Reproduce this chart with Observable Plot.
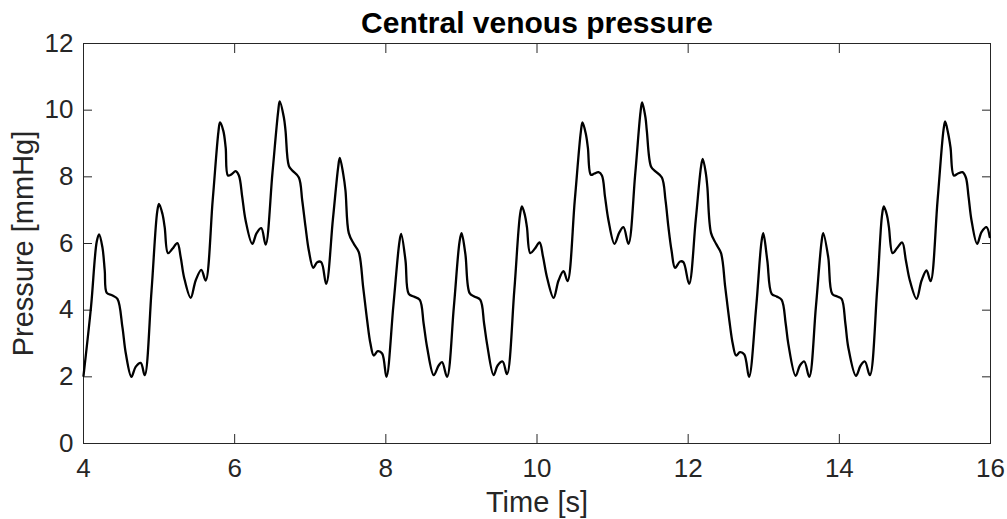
<!DOCTYPE html>
<html><head><meta charset="utf-8">
<script src="https://cdn.jsdelivr.net/npm/d3@7"></script>
<script src="https://cdn.jsdelivr.net/npm/@observablehq/plot@0.6"></script>
<style>
html,body{margin:0;padding:0;background:#fff;}
#chart svg{display:block;}
</style></head><body><div id="chart"></div>
<script>
const title = "Central venous pressure";
const xLabel = "Time [s]";
const yLabel = "Pressure [mmHg]";
const xTicks = [4, 6, 8, 10, 12, 14, 16];
const yTicks = [0, 2, 4, 6, 8, 10, 12];

const time = [
  4.00, 4.10, 4.175, 4.206, 4.25, 4.281, 4.308, 4.383, 4.449, 4.515, 4.56, 4.634, 4.69, 4.757, 4.81,
  4.90, 4.975, 4.999, 5.044, 5.074, 5.118, 5.176, 5.242, 5.286, 5.33, 5.418, 5.484, 5.559, 5.616,
  5.71, 5.785, 5.806, 5.85, 5.881, 5.911, 5.96, 6.013, 6.056, 6.10, 6.145, 6.233, 6.29, 6.352, 6.41,
  6.50, 6.575, 6.596, 6.651, 6.673, 6.717, 6.762, 6.849, 6.894, 6.938, 6.981, 7.04, 7.092, 7.145, 7.211,
  7.30, 7.37, 7.391, 7.436, 7.466, 7.51, 7.576, 7.642, 7.70, 7.753, 7.797, 7.84, 7.893, 7.951, 8.008,
  8.10, 8.18, 8.203, 8.26, 8.303, 8.369, 8.449, 8.50, 8.546, 8.634, 8.699, 8.744, 8.81,
  8.90, 8.975, 9.002, 9.052, 9.109, 9.171, 9.25, 9.30, 9.339, 9.426, 9.479, 9.545, 9.603,
  9.70, 9.775, 9.801, 9.84, 9.867, 9.911, 9.97, 10.034, 10.08, 10.132, 10.219, 10.285, 10.351, 10.404,
  10.50, 10.58, 10.602, 10.645, 10.673, 10.713, 10.76, 10.814, 10.859, 10.90, 10.946, 11.025, 11.091, 11.144, 11.21,
  11.30, 11.37, 11.391, 11.435, 11.453, 11.51, 11.563, 11.652, 11.70, 11.739, 11.78, 11.827, 11.893, 11.937, 12.012,
  12.10, 12.17, 12.193, 12.235, 12.254, 12.303, 12.369, 12.435, 12.49, 12.545, 12.59, 12.634, 12.686, 12.743, 12.805,
  12.90, 12.97, 12.994, 13.047, 13.105, 13.171, 13.237, 13.29, 13.325, 13.422, 13.479, 13.536, 13.602,
  13.69, 13.765, 13.787, 13.853, 13.906, 13.972, 14.03, 14.08, 14.118, 14.22, 14.282, 14.338, 14.404,
  14.50, 14.565, 14.589, 14.63, 14.656, 14.705, 14.77, 14.832, 14.88, 14.933, 15.022, 15.088, 15.154, 15.207,
  15.30, 15.378, 15.40, 15.44, 15.471, 15.515, 15.57, 15.63, 15.674, 15.71, 15.749, 15.823, 15.881, 15.947, 15.99
];

const pressure = [
  2.03, 4.11, 6.05, 6.27, 5.89, 5.19, 4.52, 4.44, 4.34, 3.49, 2.70, 2.00, 2.30, 2.42, 2.05,
  4.58, 6.95, 7.19, 6.89, 6.49, 5.71, 5.84, 6.01, 5.59, 4.99, 4.37, 4.89, 5.21, 4.89,
  7.32, 9.35, 9.63, 9.38, 8.88, 8.04, 8.08, 8.17, 8.04, 7.40, 6.69, 5.99, 6.31, 6.46, 5.97,
  8.12, 9.95, 10.26, 9.78, 9.38, 8.33, 8.19, 7.98, 7.29, 6.49, 5.79, 5.27, 5.44, 5.44, 4.79,
  6.73, 8.30, 8.57, 8.09, 7.59, 6.31, 5.99, 5.74, 4.69, 3.69, 2.99, 2.64, 2.77, 2.70, 2.00,
  4.14, 6.05, 6.29, 5.49, 4.49, 4.41, 4.31, 3.60, 2.89, 2.05, 2.34, 2.44, 2.00,
  4.10, 6.05, 6.31, 5.69, 4.51, 4.41, 4.31, 3.60, 2.99, 2.05, 2.34, 2.46, 2.08,
  4.60, 6.85, 7.11, 6.85, 6.49, 5.71, 5.84, 6.03, 5.60, 4.99, 4.37, 4.89, 5.17, 4.87,
  7.30, 9.35, 9.63, 9.30, 8.88, 8.06, 8.10, 8.14, 8.04, 7.40, 6.69, 5.99, 6.34, 6.49, 5.99,
  8.10, 9.95, 10.23, 9.78, 9.38, 8.30, 8.17, 7.98, 7.30, 6.49, 5.79, 5.27, 5.46, 5.44, 4.79,
  6.70, 8.30, 8.54, 8.09, 7.69, 6.31, 5.99, 5.71, 4.70, 3.69, 2.99, 2.64, 2.74, 2.67, 2.00,
  4.10, 6.05, 6.31, 5.49, 4.49, 4.41, 4.31, 3.60, 2.99, 2.03, 2.34, 2.46, 2.00,
  4.10, 6.05, 6.31, 5.59, 4.49, 4.41, 4.34, 3.60, 2.89, 2.03, 2.34, 2.46, 2.05,
  4.60, 6.85, 7.11, 6.85, 6.49, 5.71, 5.88, 6.03, 5.50, 4.89, 4.34, 4.89, 5.19, 4.87,
  7.30, 9.40, 9.66, 9.30, 8.88, 8.04, 8.10, 8.14, 7.98, 7.40, 6.69, 5.99, 6.34, 6.49, 6.19
];

const data = time.map((t, i) => ({t, p: pressure[i]}));
const font = '"Liberation Sans", Arial, Helvetica, sans-serif';
const axisColor = "#262626";

const chart = Plot.plot({
  width: 1007,
  height: 519,
  marginTop: 43,
  marginRight: 17,
  marginBottom: 76,
  marginLeft: 83,
  style: {fontFamily: font, background: "#fff", color: axisColor, overflow: "visible"},
  x: {domain: [4, 16], axis: null},
  y: {domain: [0, 12], axis: null},
  marks: [
    Plot.frame({stroke: axisColor, strokeWidth: 1}),
    // inward ticks on all four sides (no labels)
    Plot.axisX(xTicks, {anchor: "bottom", tickSize: -9, fill: "none", stroke: axisColor, label: null}),
    Plot.axisX(xTicks, {anchor: "top", tickSize: -9, fill: "none", stroke: axisColor, label: null}),
    Plot.axisY(yTicks, {anchor: "left", tickSize: -9, fill: "none", stroke: axisColor, label: null}),
    Plot.axisY(yTicks, {anchor: "right", tickSize: -9, fill: "none", stroke: axisColor, label: null}),
    // tick labels only
    Plot.axisX(xTicks, {anchor: "bottom", tickSize: 0, tickPadding: 15, fontSize: 26, fill: axisColor, label: null, tickFormat: d => String(d)}),
    Plot.axisY(yTicks, {anchor: "left", tickSize: 0, tickPadding: 10, fontSize: 26, fill: axisColor, label: null, tickFormat: d => String(d)}),
    Plot.lineY(data, {x: "t", y: "p", stroke: "#000", strokeWidth: 2.3, curve: "catmull-rom"}),
    Plot.text([title], {frameAnchor: "top", dy: -20.5, textAnchor: "middle", lineAnchor: "middle", fontSize: 30, fontWeight: "bold", fill: "#000"}),
    Plot.text([xLabel], {frameAnchor: "bottom", dy: 59, textAnchor: "middle", lineAnchor: "middle", fontSize: 29, fill: axisColor}),
    Plot.text([yLabel], {frameAnchor: "left", dx: -60, rotate: -90, textAnchor: "middle", lineAnchor: "middle", fontSize: 29, fill: axisColor})
  ]
});
document.getElementById("chart").appendChild(chart);
</script>
</body></html>
